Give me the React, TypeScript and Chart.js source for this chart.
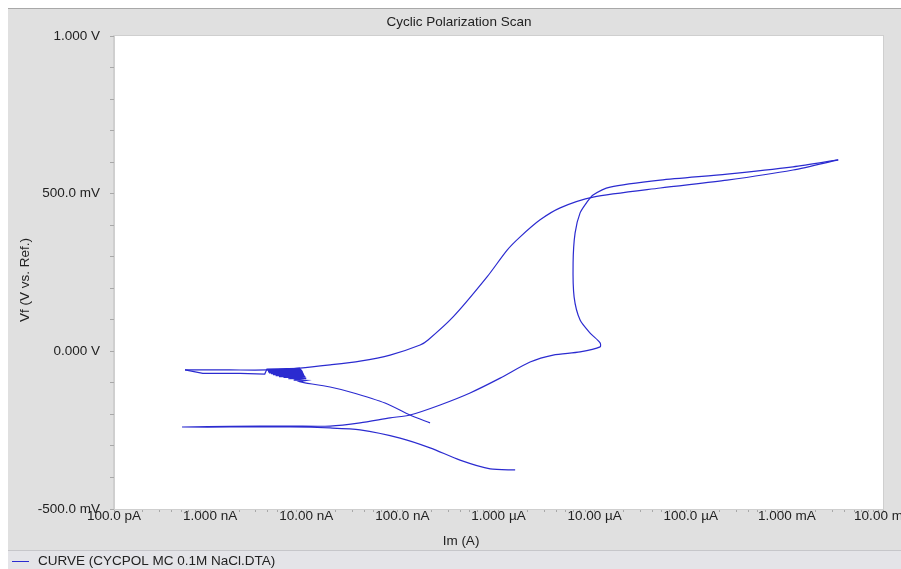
import React, { useEffect, useRef } from 'react';
import { Chart, registerables } from 'chart.js';

Chart.register(...registerables);

const chartTitle = 'Cyclic Polarization Scan';
const xAxisTitle = 'Im (A)';
const yAxisTitle = 'Vf (V vs. Ref.)';
const seriesName = 'CURVE (CYCPOL MC 0.1M NaCl.DTA)';

const xTickValues = [1e-10, 1e-9, 1e-8, 1e-7, 1e-6, 1e-5, 1e-4, 1e-3, 1e-2];
const xTickLabels = ['100.0 pA', '1.000 nA', '10.00 nA', '100.0 nA', '1.000 µA', '10.00 µA', '100.0 µA', '1.000 mA', '10.00 mA'];
const yTickValues = [-0.5, 0, 0.5, 1.0];
const yTickLabels = ['-500.0 mV', '0.000 V', '500.0 mV', '1.000 V'];

// forward scan, cathodic branch (start at -0.376 V)
const fwdCathodicI = [1.49e-6, 8.2e-7, 3.98e-7, 1.94e-7, 9.46e-8, 3.63e-8, 1.77e-8, 6.8e-9, 1.6e-9, 5.1e-10];
const fwdCathodicV = [-0.376, -0.373, -0.345, -0.306, -0.275, -0.249, -0.243, -0.240, -0.240, -0.240];

// forward scan, anodic branch up to the vertex
const fwdAnodicI = [1.6e-9, 6.8e-9, 1.77e-8, 3.63e-8, 7.45e-8, 1.2e-7, 2.47e-7, 5.06e-7, 1.04e-6, 2.13e-6, 3.7e-6, 7.06e-6, 1.14e-5, 1.14e-5, 8.97e-6, 7.06e-6, 6.12e-6, 5.97e-6, 6.26e-6, 7.06e-6, 8.36e-6, 9.63e-6, 1.45e-5, 4.81e-5, 2.39e-4, 1.16e-3, 3.42e-3];
const fwdAnodicV = [-0.238, -0.237, -0.237, -0.227, -0.211, -0.202, -0.170, -0.132, -0.085, -0.034, -0.012, -0.002, 0.014, 0.027, 0.058, 0.099, 0.172, 0.280, 0.375, 0.439, 0.474, 0.496, 0.521, 0.543, 0.562, 0.585, 0.607];

// reverse scan, anodic branch
const revAnodicI = [3.42e-3, 1.16e-3, 2.39e-4, 4.81e-5, 9.63e-6, 4.38e-6, 2.71e-6, 1.68e-6, 1.23e-6, 7.6e-7, 3.37e-7, 1.85e-7, 1.53e-7, 7.45e-8, 3.63e-8, 1.77e-8, 8.6e-9, 3.9e-9, 1.6e-9, 5.48e-10];
const revAnodicV = [0.607, 0.575, 0.543, 0.518, 0.489, 0.455, 0.417, 0.363, 0.321, 0.236, 0.109, 0.036, 0.020, -0.012, -0.031, -0.043, -0.053, -0.059, -0.059, -0.059];

// reverse scan, cathodic start with noisy region near Ecorr
const revNoiseI = [5.48e-10, 8.4e-10, 2.05e-9, 3.7e-9, 3.9e-9, 8.6e-9, 3.9e-9, 8.8e-9, 4.0e-9, 9.0e-9, 4.0e-9, 9.1e-9, 4.1e-9, 9.2e-9, 4.3e-9, 9.3e-9, 4.5e-9, 9.4e-9, 4.8e-9, 9.5e-9, 5.2e-9, 9.6e-9, 5.8e-9, 9.8e-9, 6.5e-9, 1.0e-8, 7.4e-9, 1.0e-8, 8.5e-9, 9.7e-9];
const revNoiseV = [-0.059, -0.070, -0.070, -0.072, -0.056, -0.054, -0.059, -0.057, -0.062, -0.060, -0.065, -0.063, -0.068, -0.066, -0.071, -0.069, -0.074, -0.072, -0.077, -0.075, -0.080, -0.078, -0.083, -0.081, -0.087, -0.086, -0.091, -0.092, -0.096, -0.100];

// reverse scan, cathodic tail
const revTailI = [9.7e-9, 1.77e-8, 2.86e-8, 6.6e-8, 1.2e-7, 1.94e-7];
const revTailV = [-0.100, -0.113, -0.129, -0.164, -0.202, -0.227];

const FONT = '"Liberation Sans", Arial, sans-serif';
const TEXT = '#222222';
const LINE = '#2b2bd0';

const toPoints = (xs: number[], ys: number[]) => xs.map((x, i) => ({ x, y: ys[i] }));

const decor = {
  id: 'decor',
  beforeDraw(chart: any) {
    const { ctx, width, height, chartArea: a } = chart;
    ctx.save();
    ctx.fillStyle = '#e0e0e0';
    ctx.fillRect(0, 0, width, height);
    ctx.fillStyle = '#e4e4e8';
    ctx.fillRect(0, 542, width, height - 542);
    ctx.fillStyle = '#c6c6ca';
    ctx.fillRect(0, 542, width, 1);
    ctx.fillStyle = '#a8a8a8';
    ctx.fillRect(0, 0, width, 1);
    ctx.fillStyle = '#ffffff';
    ctx.fillRect(a.left, a.top, a.right - a.left, a.bottom - a.top);
    ctx.strokeStyle = '#cfcfcf';
    ctx.lineWidth = 1;
    ctx.strokeRect(a.left - 0.5, a.top - 0.5, a.right - a.left + 1, a.bottom - a.top + 1);
    ctx.restore();
  },
  afterDraw(chart: any) {
    const { ctx } = chart;
    ctx.save();
    ctx.fillStyle = TEXT;
    ctx.font = `13.5px ${FONT}`;
    ctx.textBaseline = 'middle';
    ctx.textAlign = 'center';
    ctx.fillText(chartTitle, 451, 14);
    ctx.fillText(xAxisTitle, 453, 533);
    ctx.save();
    ctx.translate(17, 272);
    ctx.rotate(-Math.PI / 2);
    ctx.fillText(yAxisTitle, 0, 0);
    ctx.restore();
    ctx.strokeStyle = LINE;
    ctx.lineWidth = 1;
    ctx.beginPath();
    ctx.moveTo(4, 553.5);
    ctx.lineTo(21, 553.5);
    ctx.stroke();
    ctx.textAlign = 'left';
    ctx.fillText(seriesName, 30, 553);
    ctx.restore();
  },
};

export default function App() {
  const ref = useRef<HTMLCanvasElement>(null);
  useEffect(() => {
    if (!ref.current) return;
    const common = {
      showLine: true,
      borderColor: LINE,
      backgroundColor: LINE,
      borderWidth: 1.2,
      pointRadius: 0,
    };
    const chart = new Chart(ref.current, {
      type: 'scatter',
      data: {
        datasets: [
          { ...common, label: seriesName, data: toPoints([...fwdCathodicI, ...fwdAnodicI], [...fwdCathodicV, ...fwdAnodicV]), tension: 0.25 },
          { ...common, label: seriesName + ' r', data: toPoints(revAnodicI, revAnodicV), tension: 0.25 },
          { ...common, label: seriesName + ' n', data: toPoints(revNoiseI, revNoiseV), tension: 0 },
          { ...common, label: seriesName + ' t', data: toPoints(revTailI, revTailV), tension: 0.25 },
        ],
      },
      options: {
        responsive: false,
        animation: false,
        devicePixelRatio: 1,
        layout: { padding: { top: 28, right: 18, left: 0, bottom: 0 } },
        plugins: {
          legend: { display: false },
          title: { display: false },
          tooltip: { enabled: false },
        },
        scales: {
          x: {
            type: 'logarithmic',
            min: 1e-10,
            max: 1e-2,
            afterBuildTicks: (scale: any) => {
              const t: any[] = [];
              for (let e = -10; e <= -3; e++) {
                for (let m = 1; m <= 9; m++) t.push({ value: m * Math.pow(10, e) });
              }
              t.push({ value: 1e-2 });
              scale.ticks = t;
            },
            afterFit: (s: any) => {
              s.height = 60;
              s.paddingLeft = 0;
              s.paddingRight = 0;
            },
            grid: { drawOnChartArea: false, drawTicks: true, tickLength: 3, color: '#a8a8a8' },
            border: { display: true, color: '#cfcfcf' },
            ticks: {
              autoSkip: false,
              maxRotation: 0,
              minRotation: 0,
              padding: -4,
              color: TEXT,
              font: { family: FONT, size: 13.5 },
              callback: (v: any) => {
                const val = Number(v);
                const i = xTickValues.findIndex((t) => Math.abs(Math.log10(t) - Math.log10(val)) < 1e-6);
                return i >= 0 ? xTickLabels[i] : '';
              },
            },
          },
          y: {
            type: 'linear',
            min: -0.5,
            max: 1.0,
            afterFit: (s: any) => {
              s.width = 106;
              s.paddingTop = 0;
              s.paddingBottom = 0;
            },
            grid: { drawOnChartArea: false, drawTicks: true, tickLength: 4, color: '#a8a8a8' },
            border: { display: true, color: '#cfcfcf' },
            ticks: {
              stepSize: 0.1,
              autoSkip: false,
              padding: 10,
              color: TEXT,
              font: { family: FONT, size: 13.5 },
              callback: (v: any) => {
                const val = Number(v);
                const i = yTickValues.findIndex((t) => Math.abs(t - val) < 1e-6);
                return i >= 0 ? yTickLabels[i] : '';
              },
            },
          },
        },
      },
      plugins: [decor],
    });
    return () => chart.destroy();
  }, []);

  return (
    <div style={{ position: 'absolute', left: 8, top: 8, width: 893, height: 561 }}>
      <canvas ref={ref} width={893} height={561} style={{ display: 'block' }} />
    </div>
  );
}
